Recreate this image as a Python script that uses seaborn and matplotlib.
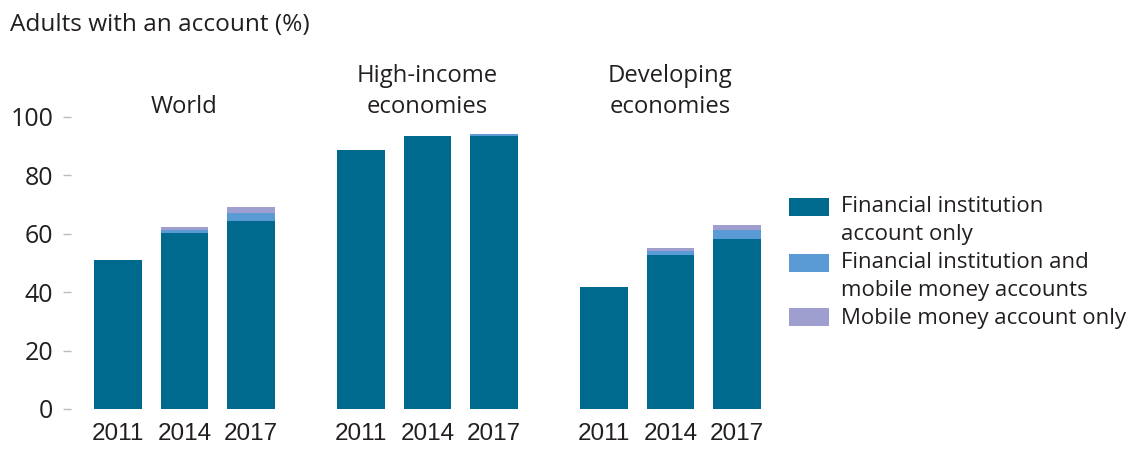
import matplotlib
matplotlib.use("Agg")
import matplotlib.pyplot as plt
import seaborn as sns
import pandas as pd
from matplotlib.patches import Patch, Rectangle
from matplotlib.legend_handler import HandlerPatch

# ---- data ----
groups = ["World", "High-income\neconomies", "Developing\neconomies"]
years = ["2011", "2014", "2017"]
fi_only = [51.0, 60.4, 64.4, 88.7, 93.5, 93.5, 41.9, 52.7, 58.2]
fi_and_mm = [0.0, 0.9, 2.8, 0.0, 0.0, 0.6, 0.0, 1.5, 3.1]
mm_only = [0.0, 0.9, 1.9, 0.0, 0.0, 0.0, 0.0, 0.8, 1.7]
series_labels = ["Financial institution\naccount only",
                 "Financial institution and\nmobile money accounts",
                 "Mobile money account only"]
y_ticks = [0, 20, 40, 60, 80, 100]
title_text = "Adults with an account (%)"

# ---- styling ----
DARK = "#006A8E"
LIGHT = "#5B9BD5"
PURPLE = "#9E9ECF"
TEXT = "#231F20"
TICK = "#BBBBBB"
MAIN_FONT = ["Open Sans", "DejaVu Sans"]
XLAB_FONT = ["Liberation Sans", "DejaVu Sans"]

df = pd.DataFrame({
    "group": [g for g in groups for _ in years],
    "year": years * len(groups),
    "fi": fi_only,
    "both": fi_and_mm,
    "mm": mm_only,
})
df["fi_both"] = df["fi"] + df["both"]
df["total"] = df["fi_both"] + df["mm"]

sns.set_theme(style="white")
plt.rcParams["font.family"] = MAIN_FONT
plt.rcParams["text.color"] = TEXT

W, H = 1134, 451
fig = plt.figure(figsize=(W / 100, H / 100), dpi=100)
ax_w = 199.5
lefts = [84.75, 327.75, 570.75]
y_bot, y_top = 409, 117

for i, g in enumerate(groups):
    ax = fig.add_axes([lefts[i] / W, (H - y_bot) / H, ax_w / W, (y_bot - y_top) / H])
    sub = df[df["group"] == g]
    for col, colr in (("total", PURPLE), ("fi_both", LIGHT), ("fi", DARK)):
        sns.barplot(data=sub, x="year", y=col, order=years, color=colr,
                    saturation=1, width=0.72, errorbar=None, linewidth=0, ax=ax)
    ax.set_ylim(0, 100)
    ax.set_xlim(-0.5, 2.5)
    ax.set_xlabel("")
    ax.set_ylabel("")
    for s in ax.spines.values():
        s.set_visible(False)
    ax.set_xticks(range(len(years)))
    ax.set_xticklabels(years, fontfamily=XLAB_FONT, fontsize=17.5, color=TEXT)
    ax.tick_params(axis="x", length=0, pad=10)
    if i == 0:
        ax.set_yticks(y_ticks)
        ax.spines["left"].set_position(("outward", 10))
        ax.tick_params(axis="y", left=True, length=5.8, width=1, color=TICK,
                       pad=7, labelsize=18, labelcolor=TEXT)
    else:
        ax.set_yticks([])
    ax.set_title(g, pad=3, fontsize=17.2, color=TEXT, linespacing=1.4)

fig.text(10 / W, 1 - 31 / H, title_text, fontsize=17.6, color=TEXT, va="baseline", ha="left")

LINE_PT = 19.8


def top_aligned_patch(legend, orig_handle, xdescent, ydescent, width, height, fontsize):
    hh = 13.0
    shift = 0.5 * LINE_PT if "\n" in orig_handle.get_label() else 0.0
    return Rectangle((-xdescent, -ydescent + (height - hh) / 2 + shift), width, hh)


handles = [Patch(facecolor=c, edgecolor="none", label=l)
           for c, l in zip((DARK, LIGHT, PURPLE), series_labels)]
leg = fig.legend(handles=handles, loc="upper left", bbox_to_anchor=(789 / W, 1 - 196 / H),
                 frameon=False, fontsize=16, borderpad=0, borderaxespad=0,
                 handlelength=1.8, handletextpad=0.55, labelspacing=0.33,
                 handler_map={Patch: HandlerPatch(patch_func=top_aligned_patch)})
for t in leg.get_texts():
    t.set_linespacing(1.43)

fig.savefig("out.png", dpi=100)
